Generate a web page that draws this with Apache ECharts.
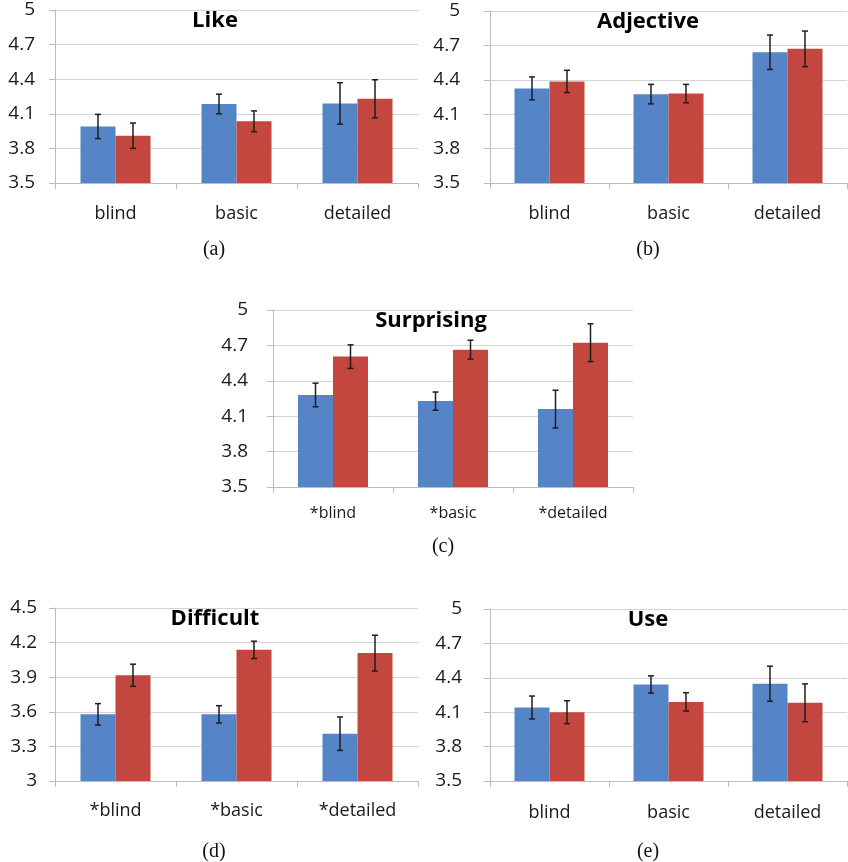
<!DOCTYPE html>
<html>
<head>
<meta charset="utf-8">
<script src="https://cdn.jsdelivr.net/npm/echarts@6/dist/echarts.min.js"></script>
<style>html,body{margin:0;padding:0;background:#fff;}#c{width:848px;height:862px;}</style>
</head>
<body>
<div id="c"></div>
<script>
// ---- data ----
const catsPlain = ['blind', 'basic', 'detailed'];
const catsStar = ['*blind', '*basic', '*detailed'];

const likeBlue = [3.99, 4.185, 4.19];
const likeBlueErr = [0.105, 0.085, 0.18];
const likeRed = [3.91, 4.035, 4.23];
const likeRedErr = [0.11, 0.09, 0.165];

const adjBlue = [4.325, 4.275, 4.64];
const adjBlueErr = [0.10, 0.085, 0.15];
const adjRed = [4.386, 4.28, 4.67];
const adjRedErr = [0.097, 0.08, 0.155];

const surBlue = [4.28, 4.228, 4.16];
const surBlueErr = [0.10, 0.077, 0.16];
const surRed = [4.605, 4.664, 4.723];
const surRedErr = [0.10, 0.08, 0.16];

const difBlue = [3.578, 3.578, 3.41];
const difBlueErr = [0.093, 0.075, 0.145];
const difRed = [3.917, 4.137, 4.109];
const difRedErr = [0.096, 0.075, 0.155];

const useBlue = [4.141, 4.342, 4.348];
const useBlueErr = [0.10, 0.075, 0.153];
const useRed = [4.10, 4.19, 4.182];
const useRedErr = [0.10, 0.08, 0.165];

const ticksA = [3.5, 5, 0.3];   // min, max, step
const ticksD = [3, 4.5, 0.3];

// ---- layout ----
const BLUE = '#5585c6', RED = '#c4473f';
const panels = [
  {title: 'Like', cap: '(a)', cats: catsPlain, blue: likeBlue, be: likeBlueErr, red: likeRed, re: likeRedErr, ticks: ticksA,
   grid: {left: 55, top: 10, width: 363, height: 173}, ylm: 20, xlm: 22, xfs: 18, tx: 215, ty: 21, cx: 214, cy: 250},
  {title: 'Adjective', cap: '(b)', cats: catsPlain, blue: adjBlue, be: adjBlueErr, red: adjRed, re: adjRedErr, ticks: ticksA,
   grid: {left: 490, top: 11, width: 357, height: 172}, ylm: 30, xlm: 22, xfs: 18, tx: 648, ty: 22, cx: 648, cy: 250},
  {title: 'Surprising', cap: '(c)', cats: catsStar, blue: surBlue, be: surBlueErr, red: surRed, re: surRedErr, ticks: ticksA,
   grid: {left: 273, top: 310, width: 360, height: 177}, ylm: 25, xlm: 18, xfs: 16, tx: 431, ty: 321, cx: 443, cy: 547},
  {title: 'Difficult', cap: '(d)', cats: catsStar, blue: difBlue, be: difBlueErr, red: difRed, re: difRedErr, ticks: ticksD,
   grid: {left: 55, top: 608, width: 363, height: 173}, ylm: 18, xlm: 21, xfs: 18, tx: 215, ty: 619, cx: 214, cy: 852},
  {title: 'Use', cap: '(e)', cats: catsPlain, blue: useBlue, be: useBlueErr, red: useRed, re: useRedErr, ticks: ticksA,
   grid: {left: 490, top: 609, width: 357, height: 172}, ylm: 28, xlm: 23, xfs: 18, tx: 648, ty: 620, cx: 648, cy: 852}
];

const AX = '#bcbcbc', GRIDC = '#d4d4d4';
const option = {
  animation: false,
  backgroundColor: '#ffffff',
  grid: [], xAxis: [], yAxis: [], series: [], title: []
};

function errSeries(idx, means, errs, offset) {
  return {
    type: 'custom', xAxisIndex: idx, yAxisIndex: idx, z: 10,
    data: means.map((m, i) => [i, m - errs[i], m + errs[i]]),
    encode: {x: 0, y: [1, 2]},
    renderItem: function (params, api) {
      const lo = api.coord([api.value(0), api.value(1)]);
      const hi = api.coord([api.value(0), api.value(2)]);
      const x = lo[0] + offset;
      const w = 3;
      const st = {stroke: '#1e1e1e', lineWidth: 1.5};
      return {type: 'group', children: [
        {type: 'line', shape: {x1: x, y1: lo[1], x2: x, y2: hi[1]}, style: st},
        {type: 'line', shape: {x1: x - w, y1: lo[1], x2: x + w, y2: lo[1]}, style: st},
        {type: 'line', shape: {x1: x - w, y1: hi[1], x2: x + w, y2: hi[1]}, style: st}
      ]};
    }
  };
}

panels.forEach((p, i) => {
  option.grid.push(Object.assign({containLabel: false}, p.grid));
  option.xAxis.push({
    type: 'category', gridIndex: i, data: p.cats, boundaryGap: true,
    axisLine: {show: true, lineStyle: {color: AX, width: 1}},
    axisTick: {show: true, length: 6, lineStyle: {color: AX}},
    axisLabel: {margin: p.xlm, fontSize: p.xfs, color: '#1a1a1a', fontFamily: 'Open Sans'},
    splitLine: {show: false}
  });
  option.yAxis.push({
    type: 'value', gridIndex: i, min: p.ticks[0], max: p.ticks[1], interval: p.ticks[2],
    axisLine: {show: true, lineStyle: {color: AX, width: 1}},
    axisTick: {show: true, length: 6, lineStyle: {color: AX}},
    axisLabel: {margin: p.ylm, fontSize: 19, color: '#1a1a1a', fontFamily: 'Open Sans', padding: [4, 0, 0, 0]},
    splitLine: {show: true, lineStyle: {color: GRIDC, width: 1}}
  });
  option.series.push({
    type: 'bar', xAxisIndex: i, yAxisIndex: i, data: p.blue, barWidth: 35, barGap: '0%',
    itemStyle: {color: BLUE}
  });
  option.series.push({
    type: 'bar', xAxisIndex: i, yAxisIndex: i, data: p.red, barWidth: 35, barGap: '0%',
    itemStyle: {color: RED}
  });
  option.series.push(errSeries(i, p.blue, p.be, -17.5));
  option.series.push(errSeries(i, p.red, p.re, 17.5));
  option.title.push({
    text: p.title, left: p.tx, top: p.ty - 15, textAlign: 'center', padding: 0,
    textStyle: {fontFamily: 'Open Sans', fontWeight: 'bold', fontSize: 22, color: '#000', lineHeight: 30}
  });
  option.title.push({
    text: p.cap, left: p.cx, top: p.cy - 12, textAlign: 'center', padding: 0,
    textStyle: {fontFamily: 'Liberation Serif', fontWeight: 'normal', fontSize: 20, color: '#111', lineHeight: 24}
  });
});

const chart = echarts.init(document.getElementById('c'), null, {renderer: 'canvas'});
chart.setOption(option);
</script>
</body>
</html>
